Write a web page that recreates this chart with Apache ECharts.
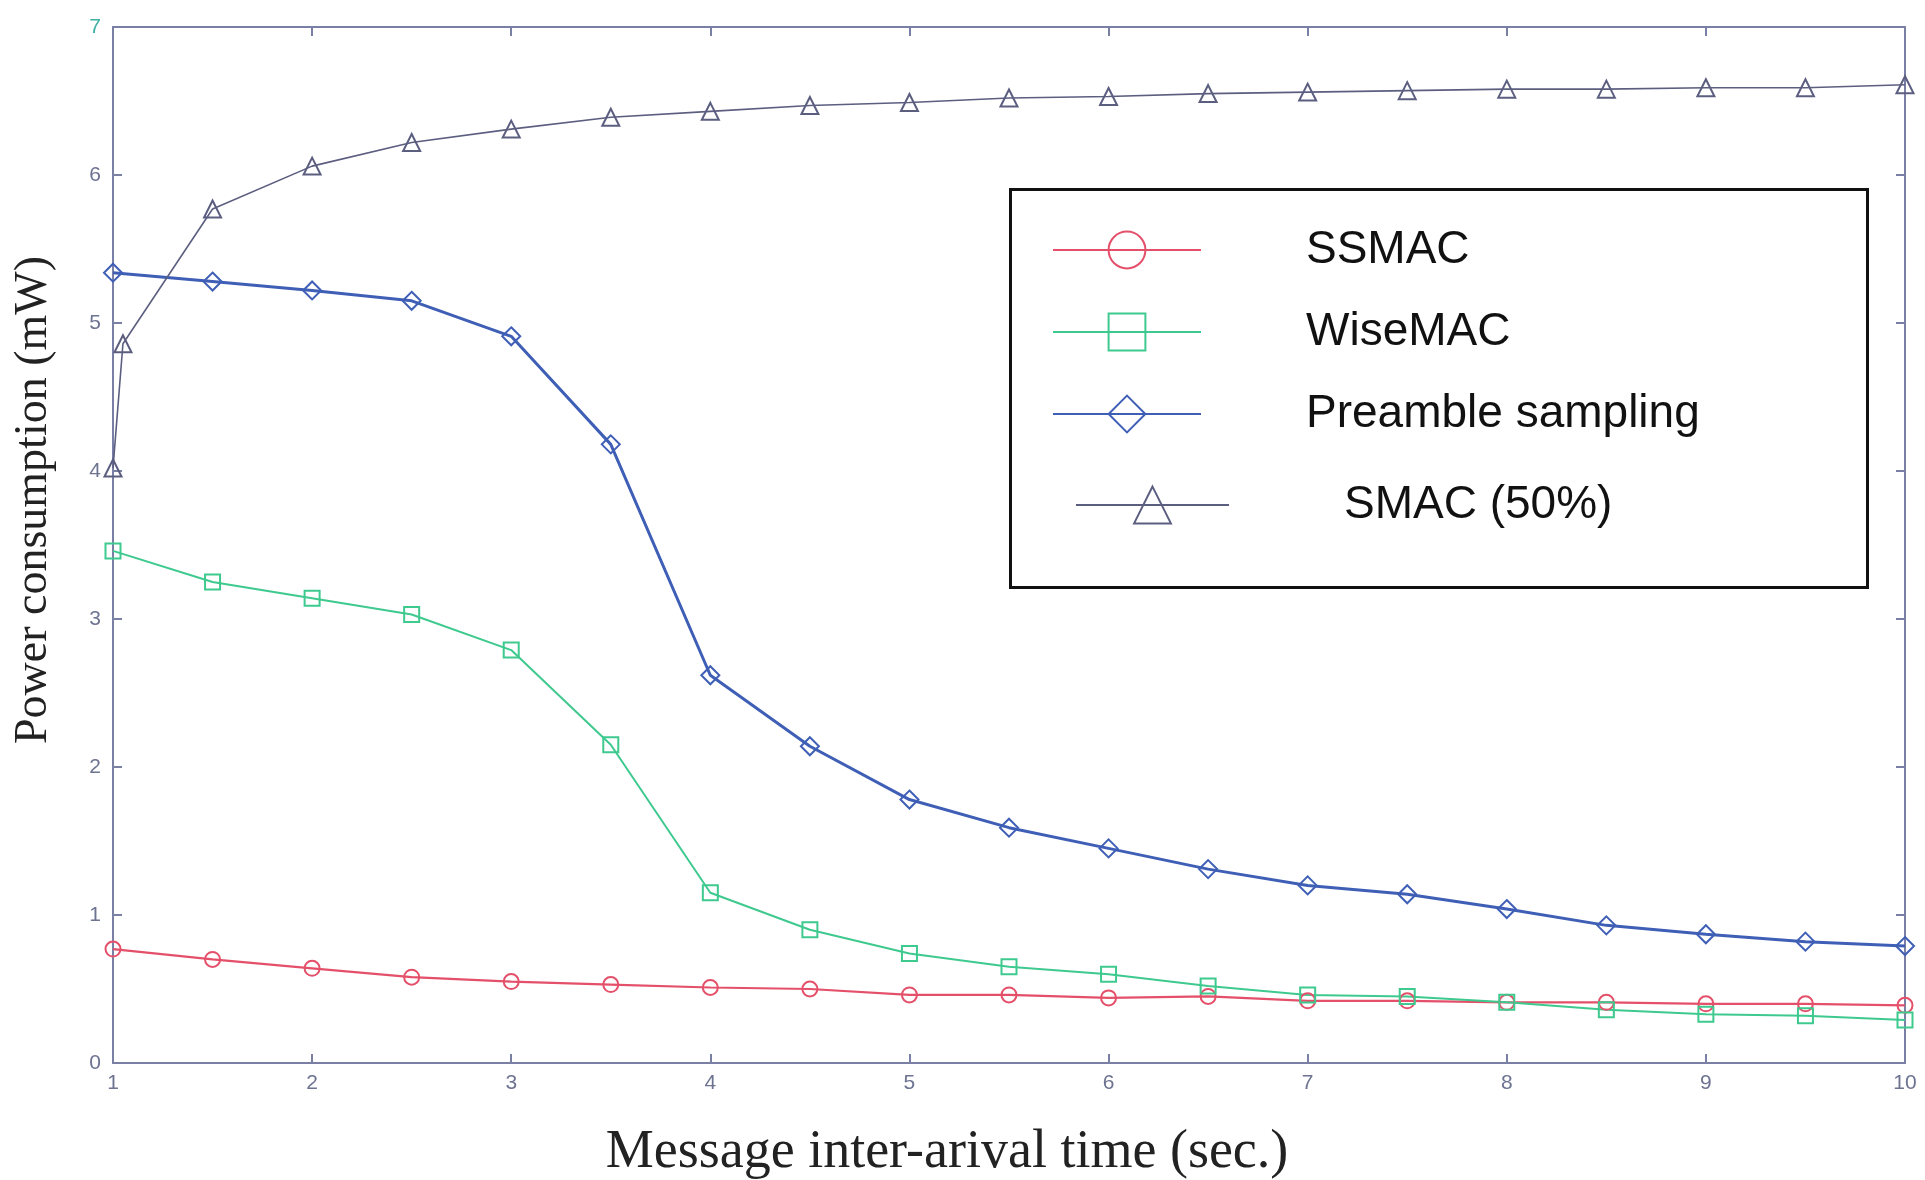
<!DOCTYPE html>
<html>
<head>
<meta charset="utf-8">
<script src="https://cdn.jsdelivr.net/npm/echarts@6/dist/echarts.min.js"></script>
<style>
  html, body { margin: 0; padding: 0; background: #fff; }
  #chart { width: 1925px; height: 1180px; }
</style>
</head>
<body>
<div id="chart"></div>
<script>
  // message inter-arrival time (sec.)
  var xValues = [1, 1.5, 2, 2.5, 3, 3.5, 4, 4.5, 5, 5.5, 6, 6.5, 7, 7.5, 8, 8.5, 9, 9.5, 10];
  // power consumption (mW)
  var ssmac = [0.77, 0.70, 0.64, 0.58, 0.55, 0.53, 0.51, 0.50, 0.46, 0.46, 0.44, 0.45, 0.42, 0.42, 0.41, 0.41, 0.40, 0.40, 0.39];
  var wisemac = [3.46, 3.25, 3.14, 3.03, 2.79, 2.15, 1.15, 0.90, 0.74, 0.65, 0.60, 0.52, 0.46, 0.45, 0.41, 0.36, 0.33, 0.32, 0.29];
  var preamble = [5.34, 5.28, 5.22, 5.15, 4.91, 4.18, 2.62, 2.14, 1.78, 1.59, 1.45, 1.31, 1.20, 1.14, 1.04, 0.93, 0.87, 0.82, 0.79];
  // SMAC has one extra point just after x = 1
  var smacX = [1, 1.05, 1.5, 2, 2.5, 3, 3.5, 4, 4.5, 5, 5.5, 6, 6.5, 7, 7.5, 8, 8.5, 9, 9.5, 10];
  var smac = [4.02, 4.86, 5.77, 6.06, 6.22, 6.31, 6.39, 6.43, 6.47, 6.49, 6.52, 6.53, 6.55, 6.56, 6.57, 6.58, 6.58, 6.59, 6.59, 6.61];
  var xTicks = [1, 10, 1];   // min, max, step
  var yTicks = [0, 7, 1];

  function pairs(xs, ys) {
    return xs.map(function (x, i) { return [x, ys[i]]; });
  }

  var axisColor = '#7a7fa6';
  var labelColor = '#6d7391';

  function lineSeries(name, xs, ys, color, symbol, size, width) {
    return {
      name: name,
      type: 'line',
      data: pairs(xs, ys),
      symbol: symbol,
      symbolSize: size,
      itemStyle: { color: 'rgba(255,255,255,0)', borderColor: color, borderWidth: 2 },
      lineStyle: { color: color, width: width },
      emphasis: { disabled: true }
    };
  }

  var chart = echarts.init(document.getElementById('chart'));
  var option = {
    backgroundColor: '#fff',
    animation: false,
    grid: { left: 113, right: 20, top: 27, bottom: 117, outerBoundsMode: 'none' },
    xAxis: [{
      type: 'value',
      min: xTicks[0], max: xTicks[1], interval: xTicks[2],
      position: 'bottom',
      axisLine: { onZero: false, lineStyle: { color: axisColor, width: 2 } },
      axisTick: { inside: true, length: 9, lineStyle: { color: axisColor, width: 2 } },
      axisLabel: { color: labelColor, fontSize: 21, margin: 10, fontFamily: 'Liberation Sans', showMinLabel: true, showMaxLabel: true },
      splitLine: { show: false },
      name: 'Message inter-arival time (sec.)',
      nameLocation: 'middle',
      nameGap: 63,
      nameTextStyle: { fontFamily: 'Liberation Serif', fontSize: 54, color: '#222', padding: [0, 124, 0, 0] }
    }, {
      type: 'value',
      min: xTicks[0], max: xTicks[1], interval: xTicks[2],
      position: 'top',
      axisLine: { onZero: false, lineStyle: { color: axisColor, width: 2 } },
      axisTick: { inside: true, length: 9, lineStyle: { color: axisColor, width: 2 } },
      axisLabel: { show: false },
      splitLine: { show: false }
    }],
    yAxis: [{
      type: 'value',
      min: yTicks[0], max: yTicks[1], interval: yTicks[2],
      position: 'left',
      axisLine: { show: true, onZero: false, lineStyle: { color: axisColor, width: 2 } },
      axisTick: { show: true, inside: true, length: 9, lineStyle: { color: axisColor, width: 2 } },
      axisLabel: {
        color: labelColor, fontSize: 21, margin: 12, fontFamily: 'Liberation Sans',
        showMinLabel: true, showMaxLabel: true,
        formatter: function (v) { return v === 7 ? '{t|7}' : v; },
        rich: { t: { color: '#3fb0a4', fontSize: 21, fontFamily: 'Liberation Sans' } }
      },
      splitLine: { show: false },
      name: 'Power consumption (mW)',
      nameLocation: 'middle',
      nameGap: 56,
      nameTextStyle: { fontFamily: 'Liberation Serif', fontSize: 46, color: '#222', padding: [0, 0, 0, 90] }
    }, {
      type: 'value',
      min: yTicks[0], max: yTicks[1], interval: yTicks[2],
      position: 'right',
      axisLine: { show: true, onZero: false, lineStyle: { color: axisColor, width: 2 } },
      axisTick: { show: true, inside: true, length: 9, lineStyle: { color: axisColor, width: 2 } },
      axisLabel: { show: false },
      splitLine: { show: false }
    }],
    legend: [{
      orient: 'vertical',
      left: 1047, top: 222,
      itemWidth: 148, itemHeight: 46, itemGap: 36,
      data: ['SSMAC', 'WiseMAC', 'Preamble sampling'],
      textStyle: { fontFamily: 'Liberation Sans', fontSize: 46, color: '#111', padding: [0, 0, 0, 100] },
      selectedMode: false
    }, {
      orient: 'vertical',
      left: 1070, top: 477,
      itemWidth: 153, itemHeight: 46,
      data: ['SMAC (50%)'],
      textStyle: { fontFamily: 'Liberation Sans', fontSize: 46, color: '#111', padding: [0, 0, 0, 110] },
      selectedMode: false
    }],
    graphic: [{
      type: 'rect',
      left: 1009, top: 188, z: 0,
      shape: { width: 857, height: 398 },
      style: { fill: '#fff', stroke: '#111', lineWidth: 3 }
    }],
    series: [
      lineSeries('SSMAC', xValues, ssmac, '#e4506a', 'circle', 15, 2.2),
      lineSeries('WiseMAC', xValues, wisemac, '#3ec98e', 'rect', 15, 2),
      lineSeries('Preamble sampling', xValues, preamble, '#3f5fb6', 'diamond', 18, 3),
      lineSeries('SMAC (50%)', smacX, smac, '#5c5e80', 'triangle', 17, 1.6)
    ]
  };
  chart.setOption(option);
</script>
</body>
</html>
